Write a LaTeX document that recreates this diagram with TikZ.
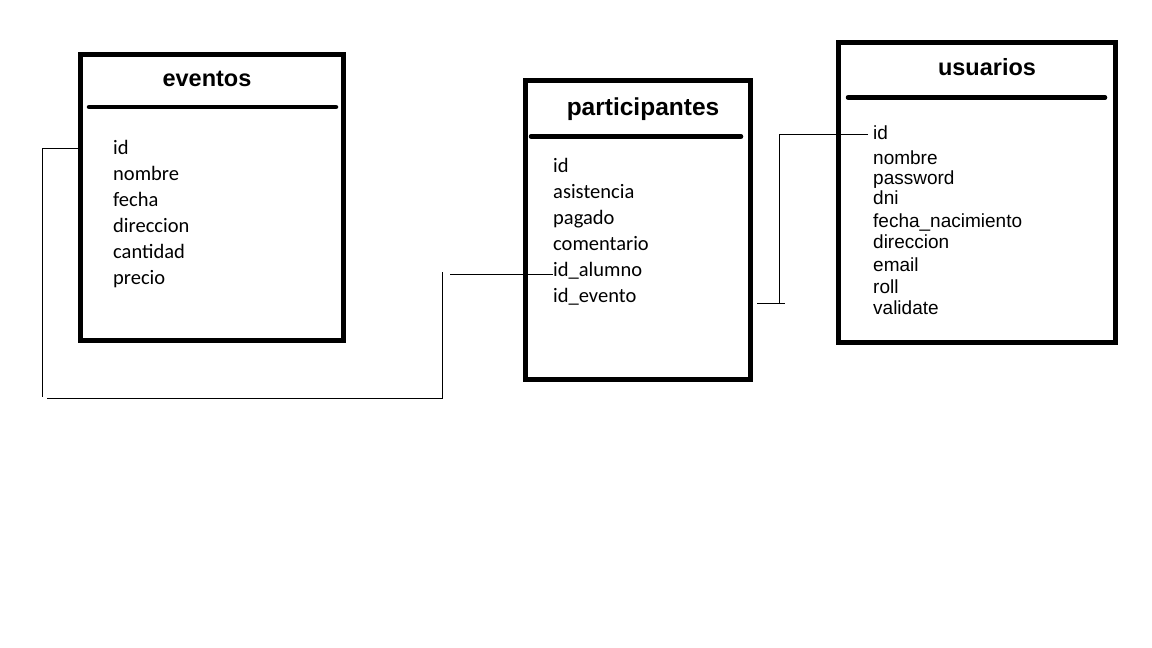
\documentclass[tikz,border=0pt]{standalone}
\usepackage{fontspec}
\setmainfont{Liberation Sans}
\newfontfamily\calfont{Carlito}
\newfontfamily\arialfont{Liberation Sans}
\begin{document}
\begin{tikzpicture}[x=1pt,y=-1pt,
  tbox/.style={draw=black,line width=5pt,inner sep=0pt,fill=white},
  hdr/.style={line width=4.5pt,line cap=round},
  ttl/.style={anchor=base,inner sep=0pt,font=\arialfont\bfseries\fontsize{23.5}{28}\selectfont},
  fcal/.style={anchor=base west,inner sep=0pt,font=\calfont\fontsize{20.5}{24}\selectfont},
  fari/.style={anchor=base west,inner sep=0pt,font=\arialfont\fontsize{19}{22}\selectfont},
  conn/.style={line width=1pt}]
\useasboundingbox[fill=white] (0,0) rectangle (1152,648);

% boxes
\node[tbox,minimum width=263pt,minimum height=286pt] (ev) at (212,197.5) {};
\node[tbox,minimum width=225.5pt,minimum height=299.5pt] (pa) at (637.75,229.75) {};
\node[tbox,minimum width=276.5pt,minimum height=300.5pt] (us) at (976.75,192.25) {};

% header rules
\draw[hdr] (89,107) -- (336,107);
\draw[hdr] (531,136.5) -- (741,136.5);
\draw[hdr] (848,97.5) -- (1105,97.5);

% titles
\node[ttl] (evt) at (207,86.5) {eventos};
\node[ttl,font=\arialfont\bfseries\fontsize{24.5}{29}\selectfont] (pat) at (643,115.5) {participantes};
\node[ttl] (ust) at (987,75.5) {usuarios};

% eventos fields
\node[fcal] (eid) at (113,154) {id};
\node[fcal] (enombre) at (113,180) {nombre};
\node[fcal] (efecha) at (113,206) {fecha};
\node[fcal] (edir) at (113,232) {direccion};
\node[fcal] (ecant) at (113,258) {cantidad};
\node[fcal] (eprecio) at (113,284) {precio};

% participantes fields
\node[fcal] (pid) at (553,172) {id};
\node[fcal] (pasis) at (553,198) {asistencia};
\node[fcal] (ppag) at (553,224) {pagado};
\node[fcal] (pcom) at (553,250) {comentario};
\node[fcal] (palumno) at (553,276) {id\_alumno};
\node[fcal] (pevento) at (553,302) {id\_evento};

% usuarios fields
\node[fari] (uid) at (873,139) {id};
\node[fari] (unombre) at (873,164) {nombre};
\node[fari] (upass) at (873,184) {password};
\node[fari] (udni) at (873,204) {dni};
\node[fari] (ufecha) at (873,227) {fecha\_nacimiento};
\node[fari] (udir) at (873,248) {direccion};
\node[fari] (uemail) at (873,271) {email};
\node[fari] (uroll) at (873,293) {roll};
\node[fari] (uval) at (873,314) {validate};

% connector eventos.id -> participantes.id_alumno
\coordinate (a1) at (41,148);
\coordinate (a2) at (42.5,397);
\coordinate (a3) at (47,398);
\coordinate (a4) at (442.5,272);
\coordinate (a5) at (450,274);
\draw[conn] (ev.west |- a1) -- (a1 -| a2) -- (a2);
\draw[conn] (a3) -- (a3 -| a4) -- (a4);
\draw[conn] (a5) -- (palumno.west |- a5);

% connector usuarios.id -> participantes.id_evento
\coordinate (b1) at (868,134.5);
\coordinate (b2) at (779,303);
\coordinate (b3) at (757,303);
\coordinate (b4) at (785,303);
\draw[conn] (b1) -- (b1 -| b2) -- (b2);
\draw[conn] (b3) -- (b4);
\end{tikzpicture}
\end{document}
